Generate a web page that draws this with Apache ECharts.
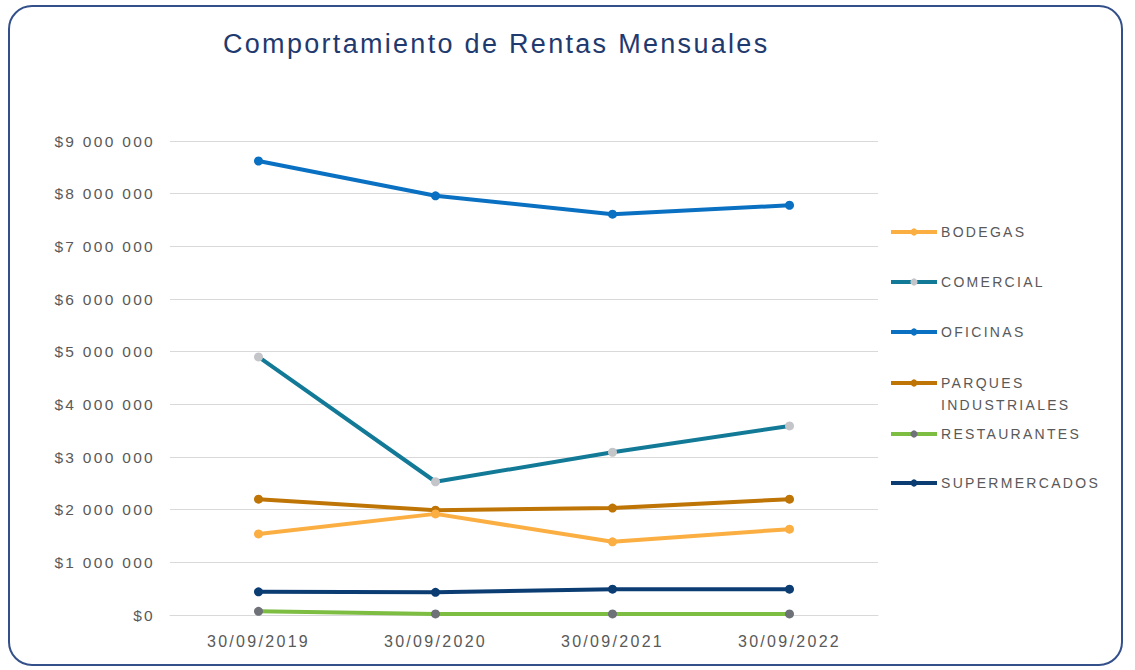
<!DOCTYPE html>
<html>
<head>
<meta charset="utf-8">
<script src="https://cdn.jsdelivr.net/npm/echarts@6/dist/echarts.min.js"></script>
<style>
html,body{margin:0;padding:0;background:#fff;}
#frame{position:absolute;left:8px;top:5px;width:1115px;height:661px;border:2px solid #34508a;border-radius:24px;box-sizing:border-box;}
#chart{position:absolute;left:0;top:0;width:1135px;height:670px;}
#chart svg text{letter-spacing:2.3px;}
</style>
</head>
<body>
<div id="frame"></div>
<div id="chart"></div>
<script>
const categories = ['30/09/2019', '30/09/2020', '30/09/2021', '30/09/2022'];
const bodegas = [1540000, 1920000, 1390000, 1630000];
const comercial = [4900000, 2530000, 3090000, 3590000];
const oficinas = [8620000, 7960000, 7610000, 7780000];
const parques = [2200000, 1990000, 2030000, 2200000];
const restaurantes = [70000, 20000, 20000, 20000];
const supermercados = [440000, 430000, 490000, 490000];
const seriesNames = ['BODEGAS', 'COMERCIAL', 'OFICINAS', 'PARQUES INDUSTRIALES', 'RESTAURANTES', 'SUPERMERCADOS'];
const seriesValues = [bodegas, comercial, oficinas, parques, restaurantes, supermercados];
const lineColors = ['#FBAE42', '#127A97', '#0A70C2', '#BF7406', '#7CBD42', '#0B3D73'];
const markerColors = ['#FBAE42', '#C3C5C9', '#0A70C2', '#BF7406', '#6E7178', '#0B3D73'];
const legendCenters = [232, 282, 332, 383, 434, 483];

const FONT = 'Liberation Sans, Arial, sans-serif';
function fmt(v) {
  const s = String(Math.round(v));
  return '$' + s.replace(/\B(?=(\d{3})+(?!\d))/g, ' ');
}

const chart = echarts.init(document.getElementById('chart'), null, {renderer: 'svg'});
const legends = seriesNames.map((n, i) => {
  const two = n === 'PARQUES INDUSTRIALES';
  return {
    data: [n],
    left: 889,
    top: two ? legendCenters[i] - 33 : legendCenters[i] - 11,
    orient: 'vertical',
    itemWidth: 46,
    itemHeight: 9,
    itemGap: 0,
    padding: 0,
    selectedMode: false,
    lineStyle: {width: 4},
    formatter: two ? ' \nPARQUES\nINDUSTRIALES' : '{name}',
    textStyle: {color: '#595959', fontSize: 14, fontFamily: FONT, lineHeight: 22, padding: [0, 0, 0, -1]}
  };
});

chart.setOption({
  animation: false,
  title: {
    text: 'Comportamiento de Rentas Mensuales',
    left: 218, top: 25,
    textStyle: {color: '#1F3A6E', fontSize: 27, fontWeight: 'normal', fontFamily: FONT}
  },
  legend: legends,
  grid: {left: 170, right: 257, top: 141, bottom: 55, containLabel: false},
  xAxis: {
    type: 'category',
    data: categories,
    boundaryGap: true,
    axisLine: {show: true, lineStyle: {color: '#D9D9D9', width: 1}},
    axisTick: {show: false},
    axisLabel: {color: '#595959', fontSize: 16, margin: 18, fontFamily: FONT}
  },
  yAxis: {
    type: 'value',
    min: 0, max: 9000000, interval: 1000000,
    axisLine: {show: false},
    axisTick: {show: false},
    splitLine: {lineStyle: {color: '#D9D9D9', width: 1}},
    axisLabel: {color: '#595959', fontSize: 15.5, margin: 15, formatter: fmt, fontFamily: FONT}
  },
  series: seriesNames.map((n, i) => ({
    name: n,
    type: 'line',
    data: seriesValues[i],
    symbol: 'circle',
    symbolSize: 9,
    lineStyle: {color: lineColors[i], width: 4},
    itemStyle: {color: markerColors[i]},
    color: lineColors[i],
    z: 10 - i
  }))
});
</script>
</body>
</html>
